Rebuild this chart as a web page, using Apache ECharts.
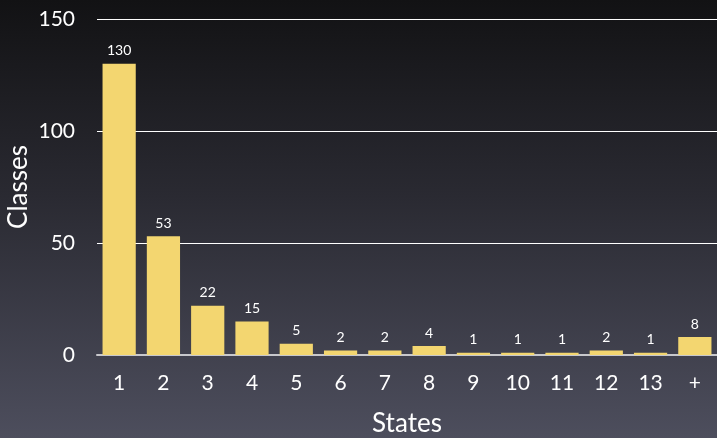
<!DOCTYPE html>
<html><head><meta charset="utf-8">
<script src="https://cdn.jsdelivr.net/npm/echarts@6/dist/echarts.min.js"></script>
<style>html,body{margin:0;padding:0;}#c{width:717px;height:438px;background:linear-gradient(to bottom,#121214 0%,#2a2a32 45%,#4d4e5d 100%);}</style>
</head><body><div id="c"></div>
<script>
const categories = ['1','2','3','4','5','6','7','8','9','10','11','12','13','+'];
const classes = [130,53,22,15,5,2,2,4,1,1,1,2,1,8];
const yTicks = [0,50,100,150];
const chart = echarts.init(document.getElementById('c'));
const font = 'Lato, "Open Sans", sans-serif';
chart.setOption({
  backgroundColor: 'transparent',
  animation: false,
  grid: {left: 97, right: 0, top: 19, bottom: 83, containLabel: false, outerBoundsMode: 'none'},
  xAxis: {
    type: 'category', data: categories,
    name: 'States', nameLocation: 'middle', nameGap: 56,
    nameTextStyle: {color: '#ffffff', fontSize: 26, fontFamily: font},
    axisLine: {lineStyle: {color: '#c8c8cc', width: 2}},
    axisTick: {show: false},
    axisLabel: {color: '#ffffff', fontSize: 21, fontFamily: font, margin: 18}
  },
  yAxis: {
    type: 'value', min: 0, max: 150, interval: 50,
    name: 'Classes', nameLocation: 'middle', nameGap: 65, nameRotate: 90,
    nameMoveOverlap: false,
    nameTextStyle: {color: '#ffffff', fontSize: 26, fontFamily: font},
    axisLine: {show: false}, axisTick: {show: false},
    axisLabel: {color: '#ffffff', fontSize: 21, fontFamily: font, margin: 22},
    splitLine: {lineStyle: {color: '#ffffff', width: 1}}
  },
  series: [{
    type: 'bar', data: classes, barCategoryGap: '25%',
    itemStyle: {color: '#f3d670'},
    label: {show: true, position: 'top', color: '#ffffff', fontSize: 14, fontFamily: font, distance: 6}
  }]
});
</script></body></html>
